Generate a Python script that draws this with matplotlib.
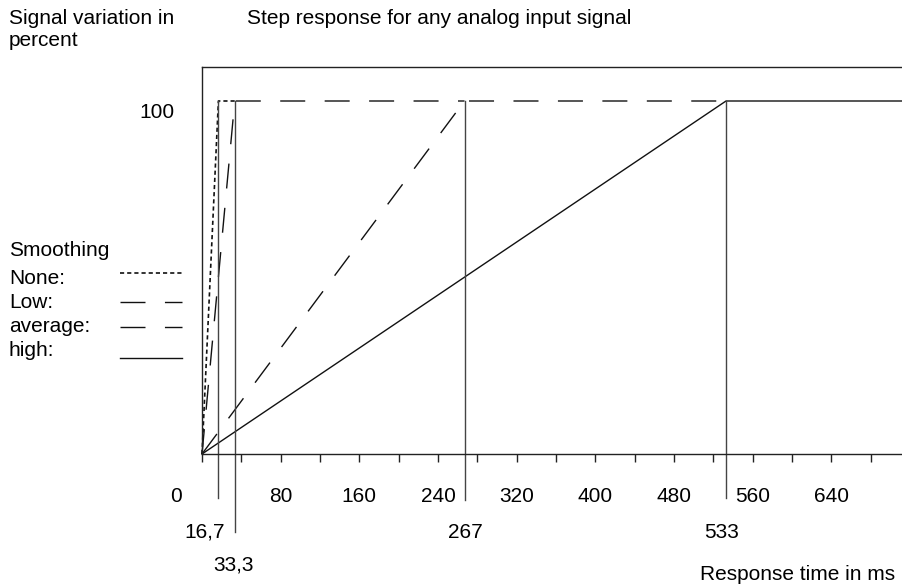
import matplotlib.pyplot as plt

plt.rcParams['font.family'] = ['Liberation Sans', 'DejaVu Sans']

# response times (ms) where each smoothing level reaches 100 %
t_end = [16.7, 33.3, 267, 533]
t_labels = ['16,7', '33,3', '267', '533']
names = ['None:', 'Low:', 'average:', 'high:']
styles = [(0, (2.5, 1.8)), (0, (18, 14)), (0, (18, 14)), '-']
xticks = list(range(0, 720, 40))
xlabels = [0, 80, 160, 240, 320, 400, 480, 560, 640]

W, H = 902, 586
FS = 15
fig = plt.figure(figsize=(W/100, H/100), dpi=100)
ax = fig.add_axes([202/W, 1-454/H, 1-202/W, (454-67)/H])
xmax = 712
ax.set_xlim(0, xmax)
ax.set_ylim(0, 100*(454-67)/(454-101))

for s in ['top', 'left', 'bottom']:
    ax.spines[s].set_color('#222222')
    ax.spines[s].set_linewidth(1.0)
ax.spines['right'].set_visible(False)
ax.set_yticks([])
ax.set_xticks(xticks)
ax.set_xticklabels([])
ax.tick_params(axis='x', direction='out', length=6, width=1, color='#222222')

# curves: ramp to 100 % then hold until the next curve takes over
for i in range(4):
    nxt = t_end[i+1] if i < 3 else xmax
    lw = 1.2 if i == 0 else 1.0
    ax.plot([0, t_end[i], nxt], [0, 100, 100], color='#111111', lw=lw,
            linestyle=styles[i], clip_on=False)

def py(pix):
    return 1 - pix/H

def px(pix):
    return pix/W

# vertical markers from 100 % down below the axis
bottoms = [498, 532, 500, 498]
for t, b in zip(t_end, bottoms):
    y0 = ax.transData.inverted().transform(fig.transFigure.transform((0, py(b))))[1]
    ax.plot([t, t], [y0, 100], color='#444444', lw=1.0, clip_on=False)

# x tick labels
for v in xlabels:
    if v == 0:
        fig.text(px(176), py(497), '0', ha='center', va='center', fontsize=FS)
    else:
        xd = fig.transFigure.inverted().transform(ax.transData.transform((v, 0)))[0]
        fig.text(xd, py(497), str(v), ha='center', va='center', fontsize=FS)

label_pos = [(205, 532), (233, 565), (465, 532), (722, 532)]
for lab, (x, y) in zip(t_labels, label_pos):
    fig.text(px(x), py(y), lab, ha='center', va='center', fontsize=FS)

fig.text(px(157), py(112), '100', ha='center', va='center', fontsize=FS)

fig.text(px(9), py(18), 'Signal variation in', ha='left', va='center', fontsize=FS)
fig.text(px(9), py(41), 'percent', ha='left', va='center', fontsize=FS)
fig.text(px(247), py(18), 'Step response for any analog input signal',
         ha='left', va='center', fontsize=FS)
fig.text(px(895), py(575), 'Response time in ms', ha='right', va='center', fontsize=FS)

# hand-drawn legend on the left
fig.text(px(9), py(251), 'Smoothing', ha='left', va='center', fontsize=FS)
rows = [278, 302, 327, 350]
sample_y = [273, 302, 327, 358]
for i, (name, ls, ry, sy) in enumerate(zip(names, styles, rows, sample_y)):
    fig.text(px(9), py(ry), name, ha='left', va='center', fontsize=FS)
    fig.add_artist(plt.Line2D([px(120), px(182)], [py(sy), py(sy)],
                              color='#111111', lw=1.2 if i == 0 else 1.0,
                              linestyle=ls))

fig.savefig('out.png', dpi=100)
